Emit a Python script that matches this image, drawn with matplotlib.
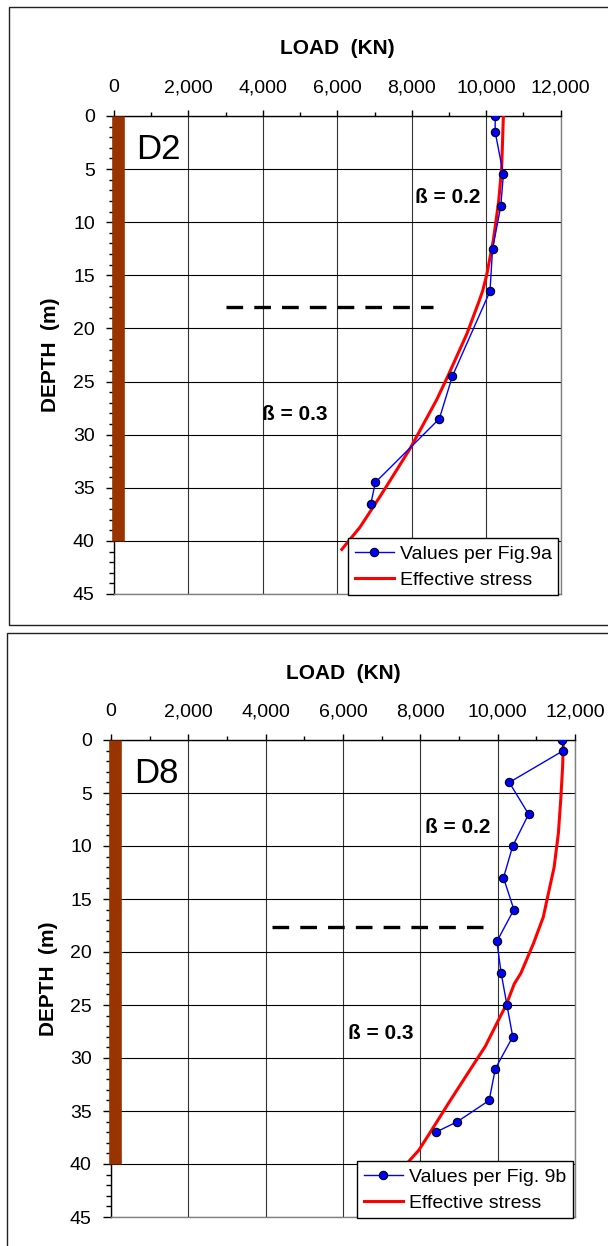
import numpy as np
import matplotlib
matplotlib.use('Agg')
import matplotlib.pyplot as plt
from matplotlib.patches import Rectangle
from matplotlib.ticker import MultipleLocator, FuncFormatter

plt.rcParams['font.family'] = ['Liberation Sans', 'DejaVu Sans']
plt.rcParams['lines.scale_dashes'] = False

# ---- data ----
# D2 (top panel)
d2_depth = [0, 1.5, 5.5, 8.5, 12.5, 16.5, 24.5, 28.5, 34.5, 36.5]
d2_load = [10240, 10240, 10460, 10390, 10170, 10100, 9090, 8740, 7020, 6900]
d2_es_depth = [0, 4.8, 8, 11.7, 15, 16.5, 17.5, 20.5, 24.4, 26.7, 29.6, 31.3, 34.3, 35.8, 38.7, 40.8]
d2_es_load = [10460, 10415, 10335, 10190, 10010, 9900, 9800, 9480, 8980, 8670, 8220, 7955, 7420, 7150, 6610, 6120]
d2_dash_load = [3000, 8580]
d2_dash_depth = [18, 18]

# D8 (bottom panel)
d8_depth = [0, 1, 4, 7, 10, 13, 16, 19, 22, 25, 28, 31, 34, 36, 37]
d8_load = [11660, 11700, 10300, 10800, 10390, 10150, 10420, 9980, 10090, 10240, 10390, 9940, 9780, 8960, 8400]
d8_es_depth = [0, 2.5, 5.7, 8.8, 12, 14.5, 16.7, 19.2, 22, 23, 25, 26.1, 28.9, 31.6, 34, 36.5, 38.7, 40, 41]
d8_es_load = [11700, 11680, 11630, 11570, 11460, 11310, 11180, 10925, 10600, 10430, 10220, 10065, 9680, 9200, 8775, 8345, 7960, 7640, 7450]
d8_dash_load = [4160, 9620]
d8_dash_depth = [17.6, 17.6]

pile_x = 110
pile_depth = [0, 40]

W, H = 608, 1246
fig = plt.figure(figsize=(W / 100, H / 100), dpi=100)


def fx(px):
    return px / W


def fy(py):
    return 1 - py / H


# outer frames around each chart
fig.add_artist(Rectangle((fx(9.3), fy(625.3)), 1.1, fy(7.3) - fy(625.3),
                         transform=fig.transFigure, fill=False, ec='#222222', lw=1.0))
fig.add_artist(Rectangle((fx(7.3), -0.1), 1.1, fy(632.7) + 0.1,
                         transform=fig.transFigure, fill=False, ec='#222222', lw=1.0))


def make_panel(rect, name, depth, load, es_depth, es_load, dash_load, dash_depth,
               legend_label, b2_pos, b3_pos):
    ax = fig.add_axes(rect)
    ax.set_xlim(0, 12000)
    ax.set_ylim(45, 0)
    ax.xaxis.tick_top()
    ax.xaxis.set_major_locator(MultipleLocator(2000))
    ax.xaxis.set_minor_locator(MultipleLocator(1000))
    ax.yaxis.set_major_locator(MultipleLocator(5))
    ax.yaxis.set_minor_locator(MultipleLocator(1))
    ax.xaxis.set_major_formatter(FuncFormatter(lambda v, p: f"{v:,.0f}"))
    ax.tick_params(axis='x', which='major', length=4.3, width=1, pad=10, labelsize=14)
    ax.tick_params(axis='x', which='minor', length=2.9, width=1)
    ax.tick_params(axis='y', which='major', length=5.8, width=1, pad=8, labelsize=14)
    ax.tick_params(axis='y', which='minor', length=3.6, width=1)

    ax.spines['top'].set_color('black')
    ax.spines['left'].set_color('black')
    ax.spines['right'].set_color('#808080')
    ax.spines['bottom'].set_color('#808080')
    for s in ax.spines.values():
        s.set_linewidth(1.0)

    ax.set_axisbelow(True)
    ax.grid(True, axis='y', which='major', color='black', lw=0.8)
    ax.grid(True, axis='x', which='major', color='#333333', lw=0.8)

    # pile
    ax.plot([pile_x, pile_x], pile_depth, color='#993300', lw=9.1,
            solid_capstyle='butt', clip_on=False, zorder=3)

    # dashed boundary
    ax.plot(dash_load, dash_depth, color='black', lw=2.4, dashes=(12, 8),
            dash_capstyle='butt', zorder=3)

    red, = ax.plot(es_load, es_depth, color='red', lw=2.2, zorder=4)
    blue, = ax.plot(load, depth, color='blue', lw=1.0, marker='o', ms=6,
                    mfc='blue', mec='black', mew=0.8, zorder=5)

    ax.text(600, 3.15, name, fontsize=25, ha='left', va='center', zorder=6)
    ax.text(b2_pos[0], b2_pos[1], 'ß = 0.2', fontsize=15, fontweight='bold',
            ha='left', va='center', zorder=6)
    ax.text(b3_pos[0], b3_pos[1], 'ß = 0.3', fontsize=15, fontweight='bold',
            ha='left', va='center', zorder=6)

    hgt = rect[3] * H
    wid = rect[2] * W
    ax.text(0.5, 1 + 67 / hgt, 'LOAD  (KN)', transform=ax.transAxes,
            fontsize=15, fontweight='bold', ha='center', va='center')
    ax.text(-63 / wid, 0.5, 'DEPTH  (m)', transform=ax.transAxes, rotation=90,
            fontsize=15, fontweight='bold', ha='center', va='center')

    leg = ax.legend([blue, red], [legend_label, 'Effective stress'],
                    loc='lower right', bbox_to_anchor=(0.995, -0.003),
                    fontsize=14, frameon=True, fancybox=False, framealpha=1,
                    edgecolor='black', borderpad=0.35, labelspacing=0.42,
                    handlelength=2.0, handletextpad=0.3, borderaxespad=0)
    leg.get_frame().set_linewidth(1.0)
    leg.set_zorder(10)
    return ax


# top panel: axes 114..560.7 px wide, 116..594 px tall
make_panel([fx(114), fy(594), fx(560.7) - fx(114), fy(116) - fy(594)], 'D2',
           d2_depth, d2_load, d2_es_depth, d2_es_load, d2_dash_load, d2_dash_depth,
           'Values per Fig.9a', (8090, 7.7), (3980, 28.1))

# bottom panel: axes 111..575 px wide, 740..1217 px tall
make_panel([fx(111), fy(1217), fx(575) - fx(111), fy(740) - fy(1217)], 'D8',
           d8_depth, d8_load, d8_es_depth, d8_es_load, d8_dash_load, d8_dash_depth,
           'Values per Fig. 9b', (8130, 8.3), (6130, 27.7))

fig.savefig('out.png', dpi=100)
